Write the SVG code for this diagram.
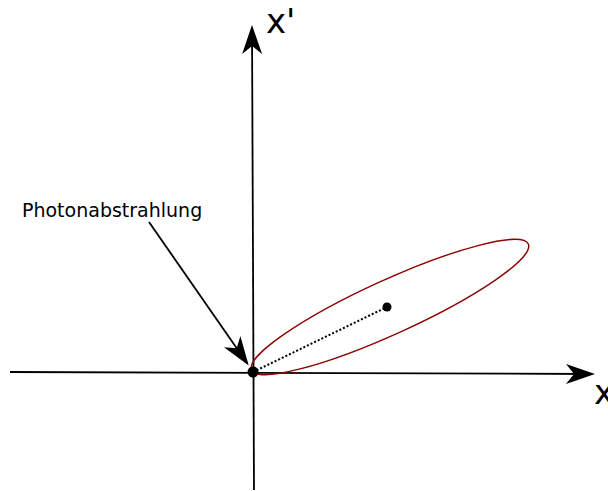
<svg xmlns="http://www.w3.org/2000/svg" width="608" height="491" viewBox="0 0 608 491">
<style>
.ax{stroke:#000;stroke-width:1.8;fill:none}
.lbl{font-family:"DejaVu Sans",sans-serif;fill:#000}
</style>
<defs>
<marker id="ah" viewBox="-28 -11 32 22" markerWidth="32" markerHeight="22" refX="0" refY="0" orient="auto" markerUnits="userSpaceOnUse">
<path d="M3,0 L-26,-10 L-18,0 L-26,10 Z" fill="#000"/>
</marker>
</defs>
<rect width="608" height="491" fill="#fff"/>
<g id="connectors">
<path class="ax" d="M10,372 L592,374" marker-end="url(#ah)"/>
<path class="ax" d="M254,490 L252,28" marker-end="url(#ah)"/>
<path class="ax" d="M149,222 L247,363" marker-end="url(#ah)"/>
<path d="M253,372 L387,307" stroke="#000" stroke-width="2" stroke-dasharray="2,2" fill="none"/>
</g>
<g id="ellipse">
<ellipse cx="390" cy="307" rx="152" ry="27" transform="rotate(-24.5 390 307)" fill="none" stroke="#8b0000" stroke-width="1.4"/>
</g>
<g id="origin"><circle cx="253" cy="372" r="5.5" fill="#000"/></g>
<g id="center"><circle cx="387" cy="307" r="4.5" fill="#000"/></g>
<g id="label-xp"><text class="lbl" x="266" y="33" font-size="34">x'</text></g>
<g id="label-x"><text class="lbl" x="594" y="404" font-size="34">x</text></g>
<g id="label-photon"><text class="lbl" x="22" y="217" font-size="19">Photonabstrahlung</text></g>
</svg>
